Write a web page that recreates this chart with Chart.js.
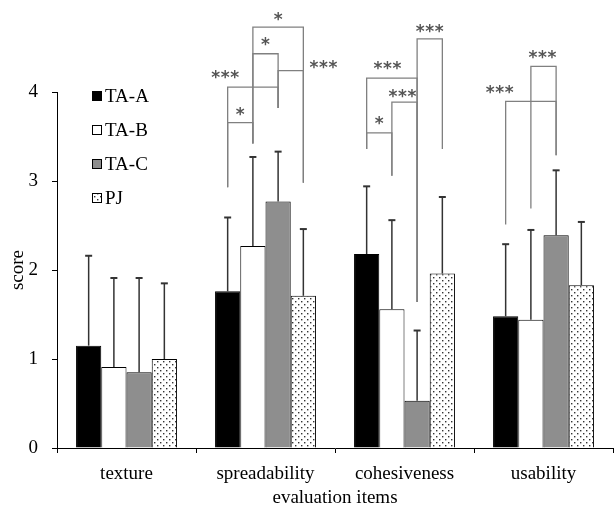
<!DOCTYPE html>
<html><head><meta charset="utf-8">
<script src="https://cdn.jsdelivr.net/npm/chart.js@4/dist/chart.umd.min.js"></script>
<style>html,body{margin:0;padding:0;background:#fff;}</style>
</head><body>
<canvas id="c" width="614" height="506"></canvas>
<script>
// ---- data ----
const categories = ['texture', 'spreadability', 'cohesiveness', 'usability'];
const seriesNames = ['TA-A', 'TA-B', 'TA-C', 'PJ'];
const taA = [1.15, 1.76, 2.18, 1.48];
const taB = [0.91, 2.27, 1.56, 1.44];
const taC = [0.85, 2.77, 0.53, 2.39];
const pj  = [1.00, 1.71, 1.96, 1.83];
const taA_sd = [1.01, 0.83, 0.76, 0.81];
const taB_sd = [1.00, 1.00, 1.00, 1.01];
const taC_sd = [1.06, 0.56, 0.79, 0.73];
const pj_sd  = [0.85, 0.75, 0.86, 0.71];
const yTicks = [0, 1, 2, 3, 4];
// significance brackets: lower end of each leg (score units) per category / series
const bracketBase = {
  1: [2.93, 3.42, 3.82, 2.98],
  2: [3.36, 3.06, 1.64, 3.36],
  3: [2.51, 2.69, 3.29, null]
};
// [category, series a, series b, bracket level (score), label]
const brackets = [
  [1, 0, 1, 3.655, '*'],
  [1, 0, 2, 4.055, '***'],
  [1, 1, 2, 4.43, '*'],
  [1, 2, 3, 4.24, '***'],
  [1, 1, 3, 4.73, '*'],
  [2, 0, 1, 3.54, '*'],
  [2, 0, 2, 4.156, '***'],
  [2, 1, 2, 3.887, '***'],
  [2, 2, 3, 4.598, '***'],
  [3, 0, 2, 3.895, '***'],
  [3, 1, 2, 4.287, '***']
];
// label placement (fraction along bracket, px above bracket)
const labelPlace = [
  [0.5, 13], [-0.05, 14], [0.5, 14], [1.8, 8], [0.5, 12],
  [0.5, 14], [0.41, 14], [0.42, 10], [0.5, 12],
  [-0.12, 13], [0.46, 13]
];

const canvas = document.getElementById('c');
const ctx2 = canvas.getContext('2d');
function dotPattern() {
  const p = document.createElement('canvas');
  p.width = 6; p.height = 6;
  const g = p.getContext('2d');
  g.fillStyle = '#fff'; g.fillRect(0, 0, 6, 6);
  g.fillStyle = '#333';
  g.fillRect(1, 1, 1.4, 1.4);
  g.fillRect(4, 4, 1.4, 1.4);
  return ctx2.createPattern(p, 'repeat');
}
const pat = dotPattern();
const FONT = 'Liberation Serif';

const errorPlugin = {
  id: 'errbars',
  afterDatasetsDraw(chart) {
    const c = chart.ctx, ys = chart.scales.y;
    c.save();
    c.strokeStyle = '#333';
    chart.data.datasets.forEach((d, i) => {
      chart.getDatasetMeta(i).data.forEach((bar, j) => {
        const x = bar.x;
        const y0 = ys.getPixelForValue(d.data[j]);
        const y1 = ys.getPixelForValue(d.data[j] + d.sd[j]);
        c.lineWidth = 1.5;
        c.beginPath();
        c.moveTo(x, y0); c.lineTo(x, y1);
        c.stroke();
        c.lineWidth = 2;
        c.beginPath();
        c.moveTo(x - 3.5, y1); c.lineTo(x + 3.5, y1);
        c.stroke();
      });
    });
    c.restore();
  }
};

const bracketPlugin = {
  id: 'brackets',
  afterDraw(chart) {
    const c = chart.ctx, ys = chart.scales.y;
    c.save();
    c.strokeStyle = '#808080';
    c.lineWidth = 1.3;
    brackets.forEach((b, k) => {
      const [cat, sa, sb, h, lab] = b;
      const xa = chart.getDatasetMeta(sa).data[cat].x;
      const xb = chart.getDatasetMeta(sb).data[cat].x;
      const yh = ys.getPixelForValue(h);
      const ya = ys.getPixelForValue(bracketBase[cat][sa]);
      const yb = ys.getPixelForValue(bracketBase[cat][sb]);
      c.beginPath();
      c.moveTo(xa, ya); c.lineTo(xa, yh); c.lineTo(xb, yh); c.lineTo(xb, yb);
      c.stroke();
      const [t, dy] = labelPlace[k];
      const lx = xa + (xb - xa) * t;
      const ly = yh - dy;
      c.fillStyle = '#555';
      c.font = 'bold 17px "DejaVu Sans"';
      c.textAlign = 'center';
      c.textBaseline = 'alphabetic';
      const n = lab.length;
      for (let s = 0; s < n; s++) {
        c.fillText('*', lx + (s - (n - 1) / 2) * 9.5, ly + 10);
      }
    });
    c.restore();
  }
};

const legendPlugin = {
  id: 'legendBox',
  afterDraw(chart) {
    const c = chart.ctx, a = chart.chartArea;
    c.save();
    c.font = '19px "' + FONT + '"';
    c.textBaseline = 'middle';
    chart.data.datasets.forEach((d, i) => {
      const y = a.top + 4 + i * 34;
      const x = a.left + 35;
      c.fillStyle = d.backgroundColor;
      c.fillRect(x, y - 5, 10, 10);
      c.strokeStyle = '#000'; c.lineWidth = 1;
      c.strokeRect(x + 0.5, y - 4.5, 9, 9);
      c.fillStyle = '#000';
      c.fillText(d.label, x + 13, y + 1);
    });
    c.restore();
  }
};

const fills = ['#000000', '#ffffff', '#8e8e8e', pat];
const sds = [taA_sd, taB_sd, taC_sd, pj_sd];
const vals = [taA, taB, taC, pj];

new Chart(canvas, {
  type: 'bar',
  data: {
    labels: categories,
    datasets: seriesNames.map((n, i) => ({
      label: n,
      data: vals[i],
      sd: sds[i],
      backgroundColor: fills[i],
      borderColor: '#000',
      borderWidth: 1,
      categoryPercentage: 0.726,
      barPercentage: 1
    }))
  },
  options: {
    responsive: false,
    animation: false,
    events: [],
    layout: { padding: { top: 92, right: 1, left: 0, bottom: 0 } },
    plugins: { legend: { display: false }, tooltip: { enabled: false } },
    scales: {
      x: {
        grid: { display: true, drawOnChartArea: false, offset: true, tickLength: 5, color: '#000', lineWidth: 1 },
        border: { display: true, color: '#000', width: 1 },
        ticks: { font: { family: FONT, size: 19 }, color: '#000', padding: 10 },
        title: { display: true, text: 'evaluation items', font: { family: FONT, size: 19 }, color: '#000', padding: { top: 0, bottom: -3 } },
        afterFit(s) { s.height = 58; }
      },
      y: {
        min: 0, max: 4,
        afterBuildTicks(s) { s.ticks = yTicks.map(v => ({ value: v })); },
        grid: { display: true, drawOnChartArea: false, tickLength: 5, color: '#000', lineWidth: 1 },
        border: { display: true, color: '#000', width: 1 },
        ticks: { font: { family: FONT, size: 19 }, color: '#000', padding: 14 },
        title: { display: true, text: 'score', font: { family: FONT, size: 19 }, color: '#000', padding: { top: 7, bottom: 0 } },
        afterFit(s) { s.width = 57; }
      }
    }
  },
  plugins: [errorPlugin, bracketPlugin, legendPlugin]
});
</script>
</body></html>
